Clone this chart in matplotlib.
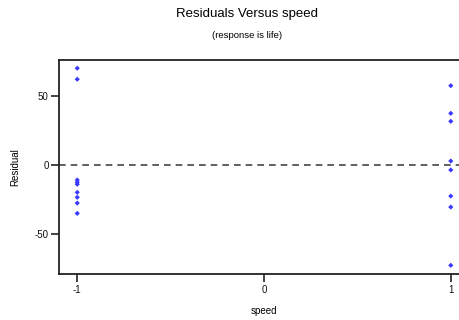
import matplotlib
matplotlib.use("Agg")
import matplotlib.pyplot as plt

plt.rcParams['font.family'] = ['Liberation Sans', 'DejaVu Sans']

speed = [-1, -1, -1, -1, -1, -1, -1, -1, -1,
         1, 1, 1, 1, 1, 1, 1, 1]
residual = [70.4, 62.4, -10.9, -14.0, -19.9, -23.5, -27.7, -35.2, -12.5,
            57.7, 37.6, 31.8, 2.9, -3.6, -22.6, -30.6, -73.0]
xticks = [-1, 0, 1]
yticks = [-50, 0, 50]

fig = plt.figure(figsize=(4.6, 3.2), dpi=100)
ax = fig.add_axes([59.3/460, 1-274/320, (468.7-59.3)/460, (274-60)/320])
ax.scatter(speed, residual, marker='D', s=7, color='#3a3aff', edgecolors='none', zorder=3)
ax.axhline(0, color='#444444', linestyle=(0, (4, 3)), linewidth=1.2, zorder=2)
ax.set_xlim(-1.096, 1.096)
ax.set_ylim(-79.3, 76.4)
ax.set_xticks(xticks)
ax.set_xticklabels([str(t) for t in xticks])
ax.set_yticks(yticks)
ax.set_yticklabels([str(t) for t in yticks])
ax.tick_params(direction='out', length=5.5, width=1.1, labelsize=7, pad=2.2, colors='#111111')
for s in ax.spines.values():
    s.set_linewidth(1.3)
    s.set_color('#222222')
ax.spines['right'].set_visible(False)
ax.set_xlabel('speed', fontsize=7, labelpad=8)
ax.set_ylabel('Residual', fontsize=7, labelpad=10)
fig.text(247/460, 1-14.5/320, 'Residuals Versus speed', ha='center', va='center', fontsize=9.5)
fig.text(247/460, 1-35/320, '(response is life)', ha='center', va='center', fontsize=6.8)
fig.savefig('out.png', dpi=100)
